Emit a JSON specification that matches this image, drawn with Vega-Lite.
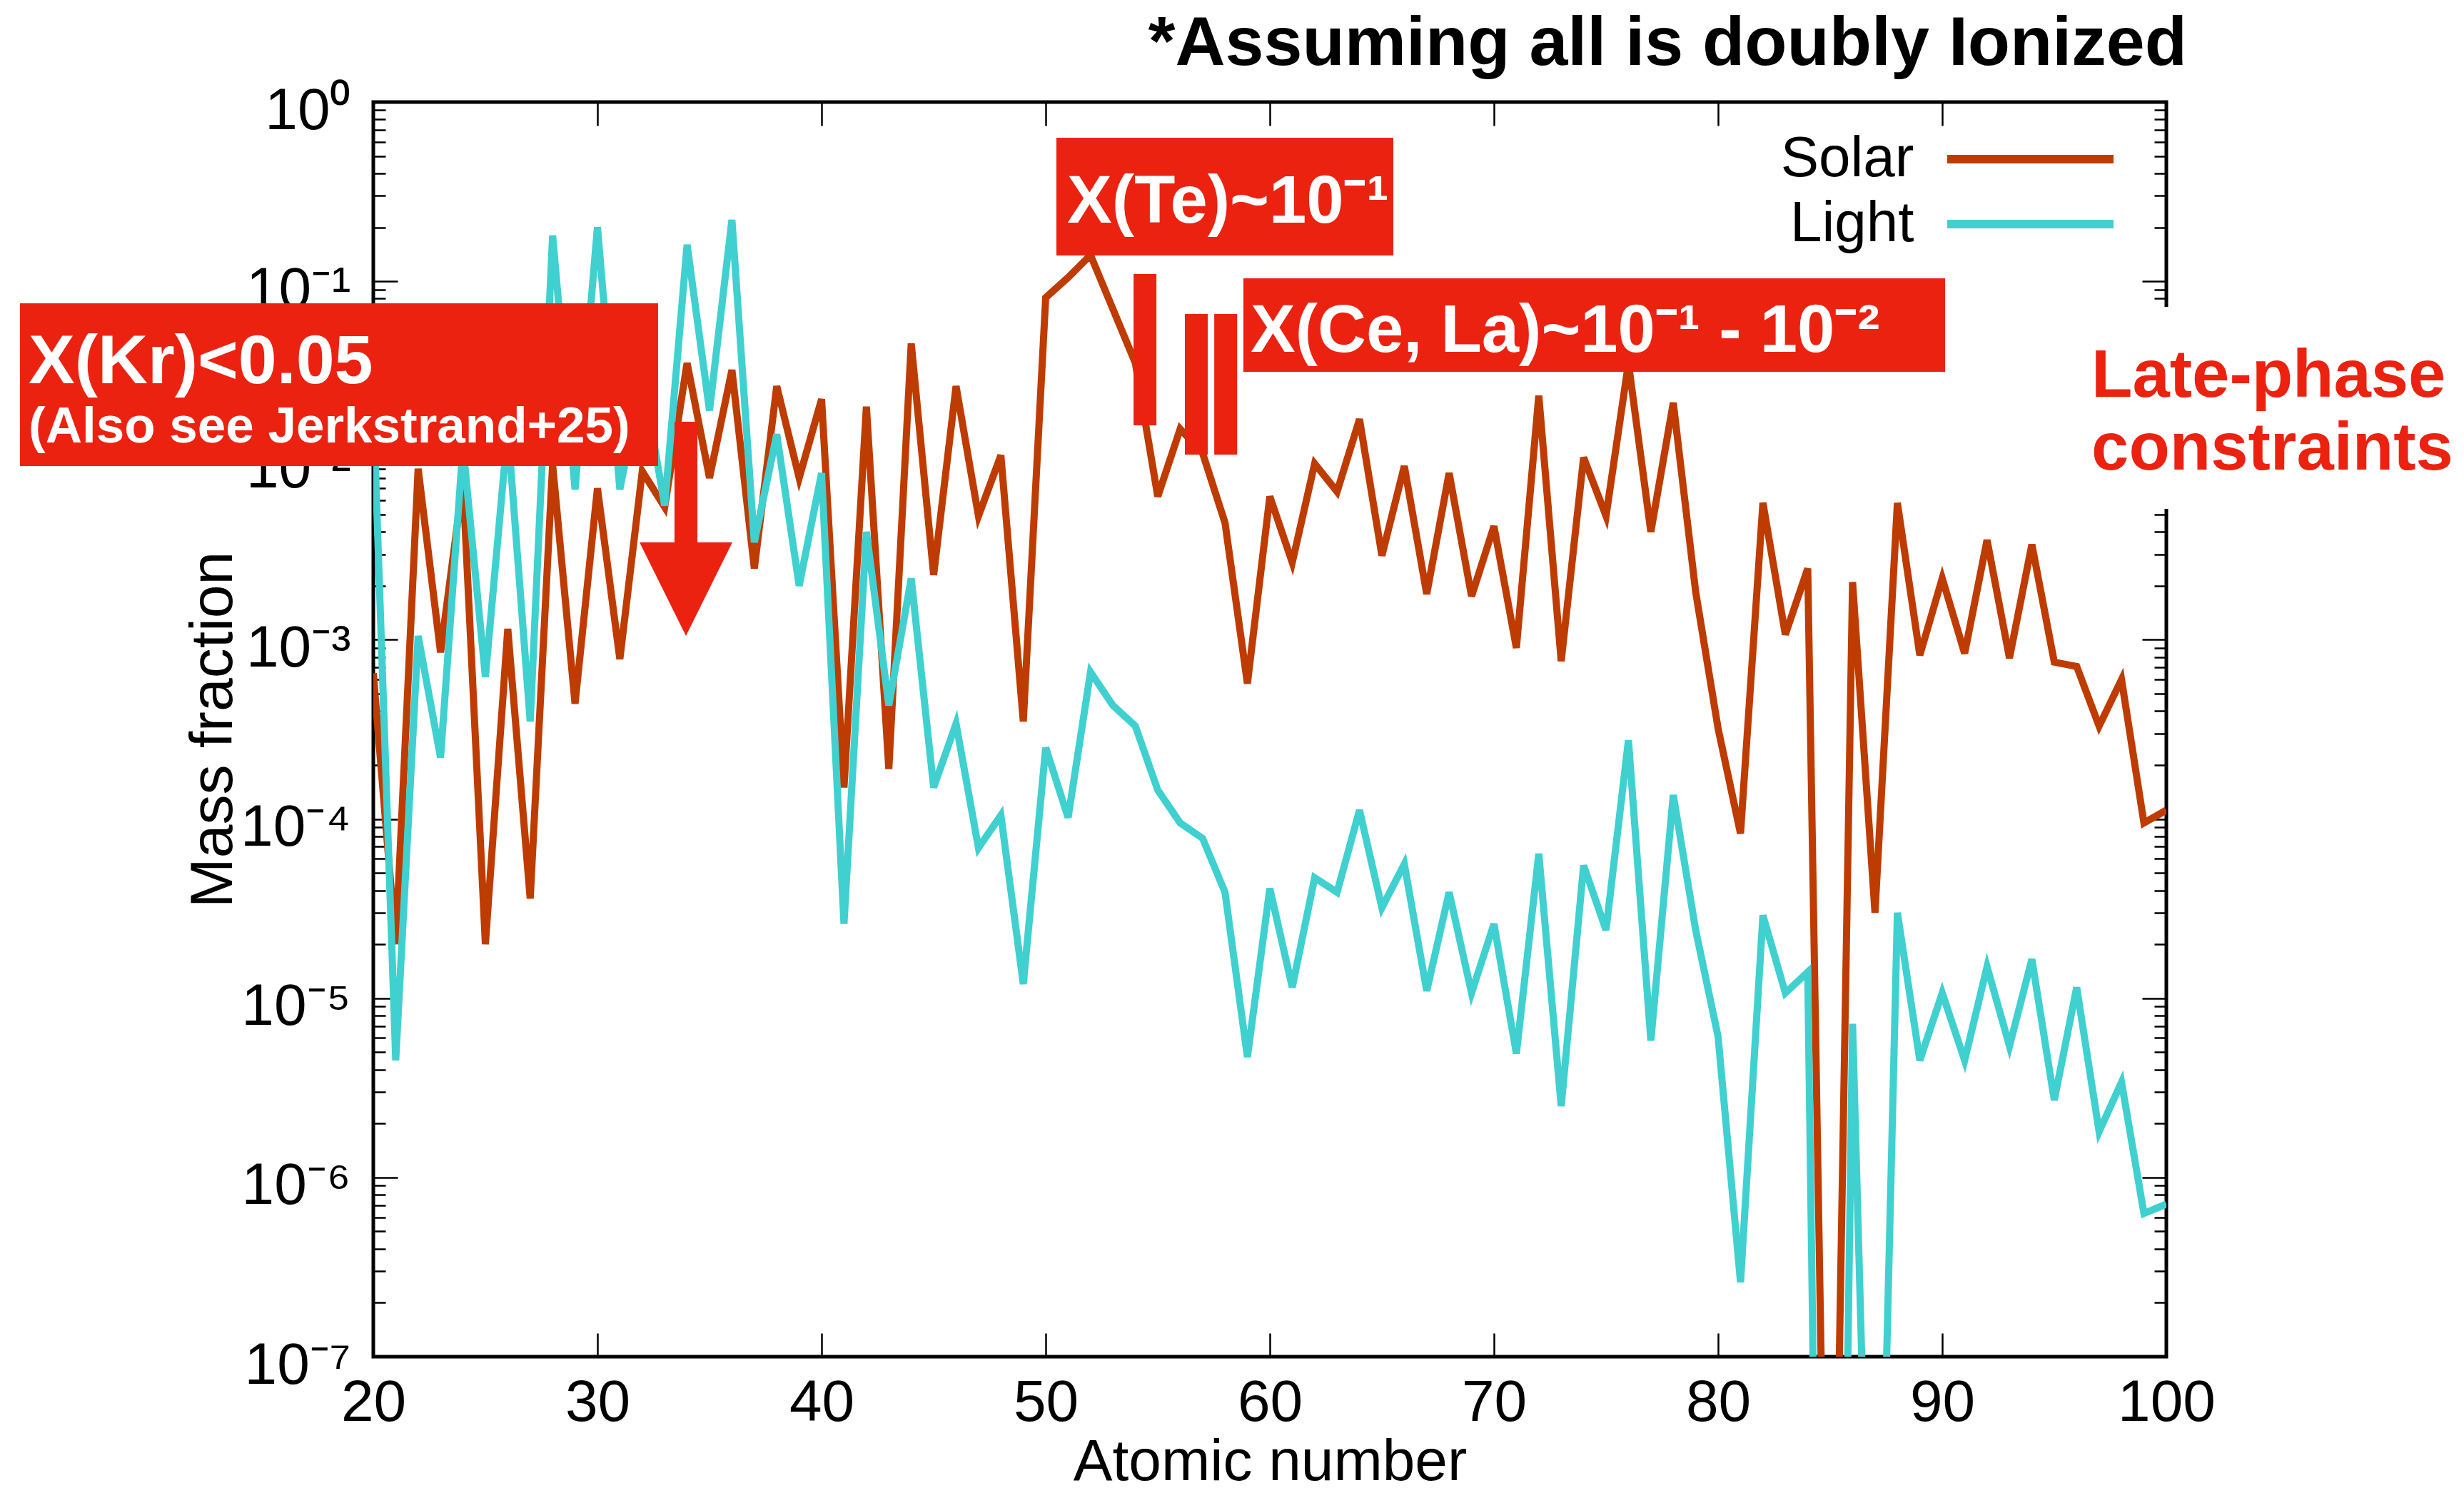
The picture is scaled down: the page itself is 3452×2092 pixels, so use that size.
{
  "$schema": "https://vega.github.io/schema/vega-lite/v6.json",
  "width": 2512,
  "height": 1758,
  "autosize": {"type": "none"},
  "padding": {"left": 523, "top": 143, "right": 417, "bottom": 191},
  "background": "white",
  "config": {
    "view": {"stroke": "black", "strokeWidth": 5},
    "font": "Liberation Sans",
    "axis": {"grid": false, "domain": false, "tickColor": "black", "tickWidth": 2.5, "labelColor": "black", "labelFont": "Liberation Sans", "labelFontSize": 82, "titleFont": "Liberation Sans", "titleFontSize": 82, "titleFontWeight": "normal", "titleColor": "black", "labelOverlap": false, "labelFlush": false}
  },
  "title": {"text": "*Assuming all is doubly Ionized", "anchor": "end", "frame": "group", "orient": "top", "font": "Liberation Sans", "fontSize": 97, "fontWeight": "bold", "color": "black", "baseline": "alphabetic", "offset": -74, "dx": 29},
  "datasets": {
    "abund": [
      {"Z": 20, "series": "Solar", "value": 6.5e-4},
      {"Z": 21, "series": "Solar", "value": 2e-5},
      {"Z": 22, "series": "Solar", "value": 9e-3},
      {"Z": 23, "series": "Solar", "value": 8.5e-4},
      {"Z": 24, "series": "Solar", "value": 7.6e-3},
      {"Z": 25, "series": "Solar", "value": 2e-5},
      {"Z": 26, "series": "Solar", "value": 1.15e-3},
      {"Z": 27, "series": "Solar", "value": 3.6e-5},
      {"Z": 28, "series": "Solar", "value": 9.5e-3},
      {"Z": 29, "series": "Solar", "value": 4.4e-4},
      {"Z": 30, "series": "Solar", "value": 7e-3},
      {"Z": 31, "series": "Solar", "value": 7.8e-4},
      {"Z": 32, "series": "Solar", "value": 8.7e-3},
      {"Z": 33, "series": "Solar", "value": 5.5e-3},
      {"Z": 34, "series": "Solar", "value": 0.035},
      {"Z": 35, "series": "Solar", "value": 8e-3},
      {"Z": 36, "series": "Solar", "value": 0.032},
      {"Z": 37, "series": "Solar", "value": 2.5e-3},
      {"Z": 38, "series": "Solar", "value": 0.026},
      {"Z": 39, "series": "Solar", "value": 8e-3},
      {"Z": 40, "series": "Solar", "value": 0.022},
      {"Z": 41, "series": "Solar", "value": 1.5e-4},
      {"Z": 42, "series": "Solar", "value": 0.02},
      {"Z": 43, "series": "Solar", "value": 1.9e-4},
      {"Z": 44, "series": "Solar", "value": 0.045},
      {"Z": 45, "series": "Solar", "value": 2.3e-3},
      {"Z": 46, "series": "Solar", "value": 0.026},
      {"Z": 47, "series": "Solar", "value": 4.9e-3},
      {"Z": 48, "series": "Solar", "value": 0.0107},
      {"Z": 49, "series": "Solar", "value": 3.5e-4},
      {"Z": 50, "series": "Solar", "value": 0.081},
      {"Z": 51, "series": "Solar", "value": 0.105},
      {"Z": 52, "series": "Solar", "value": 0.14},
      {"Z": 53, "series": "Solar", "value": 0.07},
      {"Z": 54, "series": "Solar", "value": 0.035},
      {"Z": 55, "series": "Solar", "value": 6.3e-3},
      {"Z": 56, "series": "Solar", "value": 0.015},
      {"Z": 57, "series": "Solar", "value": 0.011},
      {"Z": 58, "series": "Solar", "value": 4.5e-3},
      {"Z": 59, "series": "Solar", "value": 5.7e-4},
      {"Z": 60, "series": "Solar", "value": 6.3e-3},
      {"Z": 61, "series": "Solar", "value": 2.7e-3},
      {"Z": 62, "series": "Solar", "value": 9.6e-3},
      {"Z": 63, "series": "Solar", "value": 6.7e-3},
      {"Z": 64, "series": "Solar", "value": 0.017},
      {"Z": 65, "series": "Solar", "value": 2.95e-3},
      {"Z": 66, "series": "Solar", "value": 9.3e-3},
      {"Z": 67, "series": "Solar", "value": 1.8e-3},
      {"Z": 68, "series": "Solar", "value": 8.5e-3},
      {"Z": 69, "series": "Solar", "value": 1.75e-3},
      {"Z": 70, "series": "Solar", "value": 4.3e-3},
      {"Z": 71, "series": "Solar", "value": 9e-4},
      {"Z": 72, "series": "Solar", "value": 0.023},
      {"Z": 73, "series": "Solar", "value": 7.6e-4},
      {"Z": 74, "series": "Solar", "value": 0.0104},
      {"Z": 75, "series": "Solar", "value": 4.9e-3},
      {"Z": 76, "series": "Solar", "value": 0.035},
      {"Z": 77, "series": "Solar", "value": 4e-3},
      {"Z": 78, "series": "Solar", "value": 0.021},
      {"Z": 79, "series": "Solar", "value": 1.85e-3},
      {"Z": 80, "series": "Solar", "value": 3.2e-4},
      {"Z": 81, "series": "Solar", "value": 8.3e-5},
      {"Z": 82, "series": "Solar", "value": 5.8e-3},
      {"Z": 83, "series": "Solar", "value": 1.07e-3},
      {"Z": 84, "series": "Solar", "value": 2.5e-3},
      {"Z": 85, "series": "Solar", "value": 1e-10},
      {"Z": 86, "series": "Solar", "value": 2.1e-3},
      {"Z": 87, "series": "Solar", "value": 3e-5},
      {"Z": 88, "series": "Solar", "value": 5.8e-3},
      {"Z": 89, "series": "Solar", "value": 8.2e-4},
      {"Z": 90, "series": "Solar", "value": 2.2e-3},
      {"Z": 91, "series": "Solar", "value": 8.4e-4},
      {"Z": 92, "series": "Solar", "value": 3.6e-3},
      {"Z": 93, "series": "Solar", "value": 7.9e-4},
      {"Z": 94, "series": "Solar", "value": 3.4e-3},
      {"Z": 95, "series": "Solar", "value": 7.5e-4},
      {"Z": 96, "series": "Solar", "value": 7.1e-4},
      {"Z": 97, "series": "Solar", "value": 3.3e-4},
      {"Z": 98, "series": "Solar", "value": 6e-4},
      {"Z": 99, "series": "Solar", "value": 9.5e-5},
      {"Z": 100, "series": "Solar", "value": 1.12e-4},
      {"Z": 20, "series": "Light", "value": 0.02},
      {"Z": 21, "series": "Light", "value": 4.5e-6},
      {"Z": 22, "series": "Light", "value": 1.05e-3},
      {"Z": 23, "series": "Light", "value": 2.2e-4},
      {"Z": 24, "series": "Light", "value": 0.012},
      {"Z": 25, "series": "Light", "value": 6.2e-4},
      {"Z": 26, "series": "Light", "value": 0.015},
      {"Z": 27, "series": "Light", "value": 3.5e-4},
      {"Z": 28, "series": "Light", "value": 0.18},
      {"Z": 29, "series": "Light", "value": 6.9e-3},
      {"Z": 30, "series": "Light", "value": 0.2},
      {"Z": 31, "series": "Light", "value": 6.9e-3},
      {"Z": 32, "series": "Light", "value": 0.03},
      {"Z": 33, "series": "Light", "value": 5.6e-3},
      {"Z": 34, "series": "Light", "value": 0.16},
      {"Z": 35, "series": "Light", "value": 0.019},
      {"Z": 36, "series": "Light", "value": 0.22},
      {"Z": 37, "series": "Light", "value": 3.5e-3},
      {"Z": 38, "series": "Light", "value": 0.014},
      {"Z": 39, "series": "Light", "value": 2e-3},
      {"Z": 40, "series": "Light", "value": 8.5e-3},
      {"Z": 41, "series": "Light", "value": 2.6e-5},
      {"Z": 42, "series": "Light", "value": 4e-3},
      {"Z": 43, "series": "Light", "value": 4.3e-4},
      {"Z": 44, "series": "Light", "value": 2.2e-3},
      {"Z": 45, "series": "Light", "value": 1.5e-4},
      {"Z": 46, "series": "Light", "value": 3.4e-4},
      {"Z": 47, "series": "Light", "value": 6.9e-5},
      {"Z": 48, "series": "Light", "value": 1.05e-4},
      {"Z": 49, "series": "Light", "value": 1.2e-5},
      {"Z": 50, "series": "Light", "value": 2.5e-4},
      {"Z": 51, "series": "Light", "value": 1.02e-4},
      {"Z": 52, "series": "Light", "value": 6.6e-4},
      {"Z": 53, "series": "Light", "value": 4.3e-4},
      {"Z": 54, "series": "Light", "value": 3.3e-4},
      {"Z": 55, "series": "Light", "value": 1.45e-4},
      {"Z": 56, "series": "Light", "value": 9.5e-5},
      {"Z": 57, "series": "Light", "value": 7.8e-5},
      {"Z": 58, "series": "Light", "value": 3.9e-5},
      {"Z": 59, "series": "Light", "value": 4.7e-6},
      {"Z": 60, "series": "Light", "value": 4.1e-5},
      {"Z": 61, "series": "Light", "value": 1.15e-5},
      {"Z": 62, "series": "Light", "value": 4.7e-5},
      {"Z": 63, "series": "Light", "value": 3.9e-5},
      {"Z": 64, "series": "Light", "value": 1.12e-4},
      {"Z": 65, "series": "Light", "value": 3.2e-5},
      {"Z": 66, "series": "Light", "value": 5.6e-5},
      {"Z": 67, "series": "Light", "value": 1.1e-5},
      {"Z": 68, "series": "Light", "value": 3.9e-5},
      {"Z": 69, "series": "Light", "value": 1.07e-5},
      {"Z": 70, "series": "Light", "value": 2.6e-5},
      {"Z": 71, "series": "Light", "value": 4.9e-6},
      {"Z": 72, "series": "Light", "value": 6.4e-5},
      {"Z": 73, "series": "Light", "value": 2.5e-6},
      {"Z": 74, "series": "Light", "value": 5.5e-5},
      {"Z": 75, "series": "Light", "value": 2.4e-5},
      {"Z": 76, "series": "Light", "value": 2.75e-4},
      {"Z": 77, "series": "Light", "value": 5.8e-6},
      {"Z": 78, "series": "Light", "value": 1.36e-4},
      {"Z": 79, "series": "Light", "value": 2.4e-5},
      {"Z": 80, "series": "Light", "value": 6.1e-6},
      {"Z": 81, "series": "Light", "value": 2.6e-7},
      {"Z": 82, "series": "Light", "value": 2.9e-5},
      {"Z": 83, "series": "Light", "value": 1.07e-5},
      {"Z": 84, "series": "Light", "value": 1.4e-5},
      {"Z": 85, "series": "Light", "value": 1e-14},
      {"Z": 86, "series": "Light", "value": 7.2e-6},
      {"Z": 87, "series": "Light", "value": 2e-10},
      {"Z": 88, "series": "Light", "value": 3e-5},
      {"Z": 89, "series": "Light", "value": 4.5e-6},
      {"Z": 90, "series": "Light", "value": 1.07e-5},
      {"Z": 91, "series": "Light", "value": 4.5e-6},
      {"Z": 92, "series": "Light", "value": 1.5e-5},
      {"Z": 93, "series": "Light", "value": 5.4e-6},
      {"Z": 94, "series": "Light", "value": 1.65e-5},
      {"Z": 95, "series": "Light", "value": 2.7e-6},
      {"Z": 96, "series": "Light", "value": 1.15e-5},
      {"Z": 97, "series": "Light", "value": 1.8e-6},
      {"Z": 98, "series": "Light", "value": 3.4e-6},
      {"Z": 99, "series": "Light", "value": 6.3e-7},
      {"Z": 100, "series": "Light", "value": 7.1e-7}
    ]
  },
  "resolve": {"axis": {"x": "independent", "y": "independent"}},
  "layer": [
    {
      "data": {"name": "abund"},
      "mark": {"type": "line", "strokeWidth": 10, "clip": true},
      "encoding": {
        "x": {"field": "Z", "type": "quantitative",
          "scale": {"type": "linear", "domain": [20, 100], "nice": false, "zero": false},
          "axis": {"orient": "bottom", "values": [20, 30, 40, 50, 60, 70, 80, 90, 100], "tickSize": -33, "labelPadding": 57, "labelFontSize": 82,
            "title": "Atomic number", "titleFontSize": 82, "titleX": 1256, "titleY": 172, "titleBaseline": "alphabetic", "titleAlign": "center"}},
        "y": {"field": "value", "type": "quantitative",
          "scale": {"type": "log", "domain": [1e-7, 1], "nice": false},
          "axis": {"orient": "left",
            "values": [1e-7,2e-7,3e-7,4e-7,5e-7,6e-7,7e-7,8e-7,9e-7,1e-6,2e-6,3e-6,4e-6,5e-6,6e-6,7e-6,8e-6,9e-6,1e-5,2e-5,3e-5,4e-5,5e-5,6e-5,7e-5,8e-5,9e-5,0.0001,0.0002,0.0003,0.0004,0.0005,0.0006,0.0007,0.0008,0.0009,0.001,0.002,0.003,0.004,0.005,0.006,0.007,0.008,0.009,0.01,0.02,0.03,0.04,0.05,0.06,0.07,0.08,0.09,0.1,0.2,0.3,0.4,0.5,0.6,0.7,0.8,0.9,1],
            "tickSize": {"condition": {"test": "abs(log(datum.value)/LN10 - round(log(datum.value)/LN10)) < 0.01", "value": -34}, "value": -17},
            "labelPadding": 66, "labelOffset": 12, "labelFontSize": 82,
            "labelExpr": "abs(log(datum.value)/LN10 - round(log(datum.value)/LN10)) < 0.01 ? '10' + ['⁰','⁻¹','⁻²','⁻³','⁻⁴','⁻⁵','⁻⁶','⁻⁷'][round(-log(datum.value)/LN10)] : ''",
            "title": "Mass fraction", "titleFontSize": 84, "titleAngle": 270, "titleX": -199, "titleY": 879, "titleBaseline": "alphabetic", "titleAlign": "center"}},
        "color": {"field": "series", "type": "nominal",
          "scale": {"domain": ["Solar", "Light"], "range": ["#BE3C02", "#40D0D0"]},
          "legend": {"orient": "none", "legendX": 2200, "legendY": 40, "title": null, "padding": 0,
            "symbolType": "M-5,0H5", "symbolSize": 2172, "symbolStrokeWidth": 12, "symbolOffset": 81.5,
            "labelOffset": -203, "labelAlign": "right", "labelFontSize": 80, "labelFont": "Liberation Sans", "labelColor": "black", "labelLimit": 0, "rowPadding": 11}}
      }
    },
    {
      "data": {"values": [{}]},
      "mark": {"type": "rect", "fill": "white", "clip": false},
      "encoding": {
        "x": {"datum": 96.34, "type": "quantitative",
          "scale": {"type": "linear", "domain": [20, 100], "nice": false, "zero": false},
          "axis": {"orient": "top", "values": [20, 30, 40, 50, 60, 70, 80, 90, 100], "tickSize": -33, "labels": false, "title": null}},
        "x2": {"datum": 113.28},
        "y": {"datum": 0.07197, "type": "quantitative",
          "scale": {"type": "log", "domain": [1e-7, 1], "nice": false},
          "axis": {"orient": "right",
            "values": [1e-7,2e-7,3e-7,4e-7,5e-7,6e-7,7e-7,8e-7,9e-7,1e-6,2e-6,3e-6,4e-6,5e-6,6e-6,7e-6,8e-6,9e-6,1e-5,2e-5,3e-5,4e-5,5e-5,6e-5,7e-5,8e-5,9e-5,0.0001,0.0002,0.0003,0.0004,0.0005,0.0006,0.0007,0.0008,0.0009,0.001,0.002,0.003,0.004,0.005,0.006,0.007,0.008,0.009,0.01,0.02,0.03,0.04,0.05,0.06,0.07,0.08,0.09,0.1,0.2,0.3,0.4,0.5,0.6,0.7,0.8,0.9,1],
            "tickSize": {"condition": {"test": "abs(log(datum.value)/LN10 - round(log(datum.value)/LN10)) < 0.01", "value": -34}, "value": -17},
            "labels": false, "title": null}},
        "y2": {"datum": 0.005373}
      }
    },
    {
      "data": {"values": [{}]},
      "mark": {"type": "rect", "fill": "#EC2211", "clip": false},
      "encoding": {
        "x": {"datum": 4.236, "type": "quantitative", "scale": {"type": "linear", "domain": [20, 100], "nice": false, "zero": false}, "axis": null},
        "x2": {"datum": 32.707},
        "y": {"datum": 0.07536, "type": "quantitative", "scale": {"type": "log", "domain": [1e-7, 1], "nice": false}, "axis": null},
        "y2": {"datum": 0.009318}
      }
    },
    {
      "data": {"values": [{}]},
      "mark": {"type": "rect", "fill": "#EC2211", "clip": false},
      "encoding": {
        "x": {"datum": 50.478, "type": "quantitative", "scale": {"type": "linear", "domain": [20, 100], "nice": false, "zero": false}, "axis": null},
        "x2": {"datum": 65.51},
        "y": {"datum": 0.6324, "type": "quantitative", "scale": {"type": "log", "domain": [1e-7, 1], "nice": false}, "axis": null},
        "y2": {"datum": 0.1393}
      }
    },
    {
      "data": {"values": [{}]},
      "mark": {"type": "rect", "fill": "#EC2211", "clip": false},
      "encoding": {
        "x": {"datum": 58.82, "type": "quantitative", "scale": {"type": "linear", "domain": [20, 100], "nice": false, "zero": false}, "axis": null},
        "x2": {"datum": 90.13},
        "y": {"datum": 0.1038, "type": "quantitative", "scale": {"type": "log", "domain": [1e-7, 1], "nice": false}, "axis": null},
        "y2": {"datum": 0.03126}
      }
    },
    {
      "data": {"values": [{}]},
      "mark": {"type": "rect", "fill": "#EC2211", "clip": false},
      "encoding": {
        "x": {"datum": 53.92, "type": "quantitative", "scale": {"type": "linear", "domain": [20, 100], "nice": false, "zero": false}, "axis": null},
        "x2": {"datum": 54.94},
        "y": {"datum": 0.1097, "type": "quantitative", "scale": {"type": "log", "domain": [1e-7, 1], "nice": false}, "axis": null},
        "y2": {"datum": 0.01571}
      }
    },
    {
      "data": {"values": [{}]},
      "mark": {"type": "rect", "fill": "#EC2211", "clip": false},
      "encoding": {
        "x": {"datum": 56.21, "type": "quantitative", "scale": {"type": "linear", "domain": [20, 100], "nice": false, "zero": false}, "axis": null},
        "x2": {"datum": 57.23},
        "y": {"datum": 0.06569, "type": "quantitative", "scale": {"type": "log", "domain": [1e-7, 1], "nice": false}, "axis": null},
        "y2": {"datum": 0.01079}
      }
    },
    {
      "data": {"values": [{}]},
      "mark": {"type": "rect", "fill": "#EC2211", "clip": false},
      "encoding": {
        "x": {"datum": 57.52, "type": "quantitative", "scale": {"type": "linear", "domain": [20, 100], "nice": false, "zero": false}, "axis": null},
        "x2": {"datum": 58.54},
        "y": {"datum": 0.06569, "type": "quantitative", "scale": {"type": "log", "domain": [1e-7, 1], "nice": false}, "axis": null},
        "y2": {"datum": 0.01079}
      }
    },
    {
      "data": {"values": [{}]},
      "mark": {"type": "point", "shape": "M-0.107,-1L0.107,-1L0.107,0.127L0.433,0.127L0,1L-0.433,0.127L-0.107,0.127Z", "size": 90000, "filled": true, "color": "#EC2211", "opacity": 1, "strokeWidth": 0, "clip": false},
      "encoding": {
        "x": {"datum": 33.949, "type": "quantitative", "scale": {"type": "linear", "domain": [20, 100], "nice": false, "zero": false}, "axis": null},
        "y": {"datum": 0.004157, "type": "quantitative", "scale": {"type": "log", "domain": [1e-7, 1], "nice": false}, "axis": null}
      }
    },
    {
      "data": {"values": [{}]},
      "mark": {"type": "text", "text": "X(Kr)<0.05", "font": "Liberation Sans", "fontWeight": "bold", "fontSize": 97, "color": "white", "align": "left", "baseline": "alphabetic", "clip": false},
      "encoding": {
        "x": {"datum": 4.618, "type": "quantitative", "scale": {"type": "linear", "domain": [20, 100], "nice": false, "zero": false}, "axis": null},
        "y": {"datum": 0.02698, "type": "quantitative", "scale": {"type": "log", "domain": [1e-7, 1], "nice": false}, "axis": null}
      }
    },
    {
      "data": {"values": [{}]},
      "mark": {"type": "text", "text": "(Also see Jerkstrand+25)", "font": "Liberation Sans", "fontWeight": "bold", "fontSize": 71, "color": "white", "align": "left", "baseline": "alphabetic", "clip": false},
      "encoding": {
        "x": {"datum": 4.618, "type": "quantitative", "scale": {"type": "linear", "domain": [20, 100], "nice": false, "zero": false}, "axis": null},
        "y": {"datum": 0.0126, "type": "quantitative", "scale": {"type": "log", "domain": [1e-7, 1], "nice": false}, "axis": null}
      }
    },
    {
      "data": {"values": [{}]},
      "mark": {"type": "text", "text": "X(Te)~10⁻¹", "font": "Liberation Sans", "fontWeight": "bold", "fontSize": 94, "color": "white", "align": "left", "baseline": "alphabetic", "clip": false},
      "encoding": {
        "x": {"datum": 50.955, "type": "quantitative", "scale": {"type": "linear", "domain": [20, 100], "nice": false, "zero": false}, "axis": null},
        "y": {"datum": 0.2114, "type": "quantitative", "scale": {"type": "log", "domain": [1e-7, 1], "nice": false}, "axis": null}
      }
    },
    {
      "data": {"values": [{}]},
      "mark": {"type": "text", "text": "X(Ce, La)~10⁻¹ - 10⁻²", "font": "Liberation Sans", "fontWeight": "bold", "fontSize": 94, "color": "white", "align": "left", "baseline": "alphabetic", "clip": false},
      "encoding": {
        "x": {"datum": 59.14, "type": "quantitative", "scale": {"type": "linear", "domain": [20, 100], "nice": false, "zero": false}, "axis": null},
        "y": {"datum": 0.04039, "type": "quantitative", "scale": {"type": "log", "domain": [1e-7, 1], "nice": false}, "axis": null}
      }
    },
    {
      "data": {"values": [{}]},
      "mark": {"type": "text", "text": ["Late-phase", "constraints"], "lineHeight": 102, "font": "Liberation Sans", "fontWeight": "bold", "fontSize": 94, "color": "#EC2211", "align": "left", "baseline": "alphabetic", "clip": false},
      "encoding": {
        "x": {"datum": 96.66, "type": "quantitative", "scale": {"type": "linear", "domain": [20, 100], "nice": false, "zero": false}, "axis": null},
        "y": {"datum": 0.02267, "type": "quantitative", "scale": {"type": "log", "domain": [1e-7, 1], "nice": false}, "axis": null}
      }
    }
  ]
}
